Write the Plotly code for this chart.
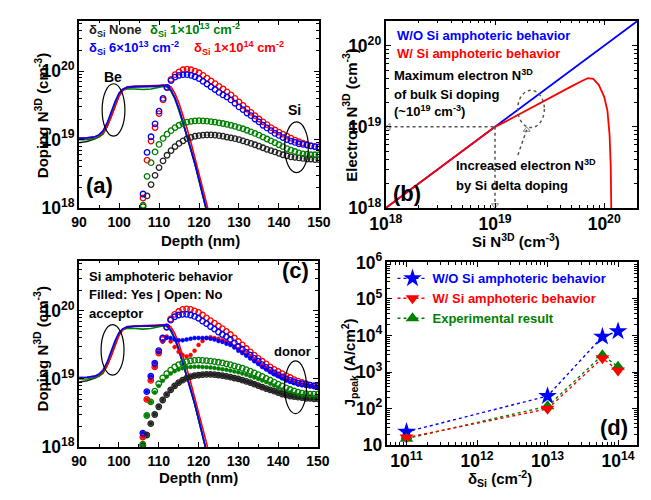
import plotly.graph_objects as go

FONT = "Liberation Sans, Arial, sans-serif"
BLUE = "#0000FF"
RED = "#FF0000"
GREEN = "#008000"
BLACK = "#222222"
W, H = 651, 500

# ---------------- Panels (a)/(c): Be acceptor profiles (lines) ----------------
be_depth = [90, 92, 94, 95, 96, 97, 98, 99, 100, 101, 102, 104, 106, 108, 110, 111,
            112, 113, 114, 115, 116, 117, 118, 119, 120, 121, 122, 123]
be_none = [9.0e18, 9.4e18, 1.03e19, 1.1e19, 1.25e19, 1.55e19, 2.2e19, 3.3e19, 4.6e19, 5.4e19,
           5.7e19, 5.9e19, 5.9e19, 5.9e19, 6.0e19, 6.2e19, 6.0e19, 5.2e19, 4.0e19, 2.75e19,
           1.8e19, 1.15e19, 7.2e18, 4.4e18, 2.6e18, 1.5e18, 8.9e17, 5.0e17]
be_1e13 = [1.0e19, 1.0e19, 1.05e19, 1.1e19, 1.2e19, 1.55e19, 2.2e19, 3.3e19, 4.6e19, 5.3e19,
           5.5e19, 5.5e19, 5.4e19, 5.5e19, 5.8e19, 6.0e19, 5.9e19, 5.1e19, 3.9e19, 2.7e19,
           1.75e19, 1.1e19, 7.0e18, 4.3e18, 2.5e18, 1.45e18, 8.5e17, 5.0e17]
be_6e13 = [1.05e19, 1.06e19, 1.1e19, 1.18e19, 1.35e19, 1.75e19, 2.5e19, 3.6e19, 4.8e19, 5.5e19,
           5.8e19, 6.0e19, 6.0e19, 6.0e19, 6.1e19, 6.2e19, 6.1e19, 5.3e19, 4.0e19, 2.8e19,
           1.8e19, 1.15e19, 7.2e18, 4.4e18, 2.6e18, 1.5e18, 8.8e17, 5.0e17]
be_1e14 = [1.05e19, 1.06e19, 1.1e19, 1.15e19, 1.28e19, 1.55e19, 2.1e19, 3.0e19, 4.3e19, 5.3e19,
           5.9e19, 6.0e19, 6.1e19, 6.1e19, 6.2e19, 6.3e19, 6.3e19, 5.9e19, 4.7e19, 3.4e19,
           2.3e19, 1.45e19, 9.0e18, 5.5e18, 3.3e18, 2.0e18, 1.15e18, 6.5e17]

# ---------------- Si donor profiles (markers), depth 106..150 nm ----------------
si_depth = list(range(106, 151))
si_none = [1.05e18, 1.5e18, 2.2e18, 3.0e18, 3.9e18, 4.9e18, 5.9e18, 6.9e18, 7.9e18, 8.8e18,
           9.6e18, 1.03e19, 1.08e19, 1.12e19, 1.14e19, 1.16e19, 1.17e19, 1.17e19, 1.16e19, 1.14e19,
           1.12e19, 1.09e19, 1.06e19, 1.03e19, 1.0e19, 9.6e18, 9.2e18, 8.8e18, 8.4e18, 8.0e18,
           7.6e18, 7.2e18, 6.9e18, 6.6e18, 6.3e18, 6.0e18, 5.8e18, 5.6e18, 5.5e18, 5.4e18,
           5.3e18, 5.2e18, 5.2e18, 5.1e18, 5.1e18]
si_1e13 = [1.1e18, 2.9e18, 4.6e18, 6.6e18, 8.5e18, 1.04e19, 1.2e19, 1.35e19, 1.5e19, 1.62e19,
           1.72e19, 1.8e19, 1.85e19, 1.88e19, 1.89e19, 1.88e19, 1.86e19, 1.83e19, 1.8e19, 1.76e19,
           1.72e19, 1.67e19, 1.62e19, 1.56e19, 1.5e19, 1.44e19, 1.37e19, 1.3e19, 1.23e19, 1.16e19,
           1.09e19, 1.02e19, 9.6e18, 9.0e18, 8.4e18, 7.9e18, 7.4e18, 7.0e18, 6.7e18, 6.4e18,
           6.2e18, 6.1e18, 6.0e18, 6.0e18, 6.0e18]
si_6e13 = [1.6e18, 6.5e18, 1.1e19, 1.7e19, 2.6e19, 4.0e19, 5.8e19, 7.3e19, 8.2e19, 8.7e19,
           8.9e19, 8.9e19, 8.7e19, 8.3e19, 7.8e19, 7.1e19, 6.5e19, 5.9e19, 5.4e19, 4.9e19,
           4.5e19, 4.2e19, 3.8e19, 3.4e19, 3.0e19, 2.75e19, 2.45e19, 2.24e19, 2.0e19, 1.82e19,
           1.62e19, 1.48e19, 1.35e19, 1.23e19, 1.15e19, 1.07e19, 1.0e19, 9.5e18, 9.1e18, 8.7e18,
           8.5e18, 8.3e18, 8.1e18, 7.9e18, 7.8e18]
si_1e14 = [1.4e18, 5.0e18, 9.5e18, 1.5e19, 2.4e19, 3.8e19, 5.75e19, 7.6e19, 8.9e19, 9.8e19,
           1.05e20, 1.07e20, 1.05e20, 1.0e20, 9.5e19, 8.7e19, 7.9e19, 7.2e19, 6.6e19, 6.0e19,
           5.5e19, 5.0e19, 4.5e19, 4.0e19, 3.55e19, 3.16e19, 2.8e19, 2.5e19, 2.24e19, 2.0e19,
           1.82e19, 1.66e19, 1.5e19, 1.38e19, 1.29e19, 1.2e19, 1.12e19, 1.05e19, 9.8e18, 9.3e18,
           8.9e18, 8.5e18, 8.1e18, 7.9e18, 7.8e18]
# with Si amphoteric behaviour (filled markers, panel c)
si_none_amph = [1.05e18, 1.5e18, 2.2e18, 3.0e18, 3.9e18, 4.9e18, 5.9e18, 6.9e18, 7.9e18, 8.8e18,
                9.6e18, 1.03e19, 1.08e19, 1.12e19, 1.14e19, 1.16e19, 1.17e19, 1.17e19, 1.16e19, 1.14e19,
                1.12e19, 1.09e19, 1.06e19, 1.03e19, 1.0e19, 9.6e18, 9.2e18, 8.8e18, 8.4e18, 8.0e18,
                7.6e18, 7.2e18, 6.9e18, 6.6e18, 6.3e18, 6.0e18, 5.8e18, 5.6e18, 5.5e18, 5.4e18,
                5.3e18, 5.2e18, 5.2e18, 5.1e18, 5.1e18]
si_1e13_amph = [1.1e18, 2.9e18, 4.6e18, 6.3e18, 7.9e18, 9.4e18, 1.08e19, 1.2e19, 1.3e19, 1.38e19,
                1.44e19, 1.48e19, 1.5e19, 1.51e19, 1.51e19, 1.5e19, 1.49e19, 1.47e19, 1.45e19, 1.42e19,
                1.39e19, 1.36e19, 1.33e19, 1.29e19, 1.25e19, 1.2e19, 1.15e19, 1.1e19, 1.05e19, 1.0e19,
                9.5e18, 9.0e18, 8.5e18, 8.0e18, 7.5e18, 7.0e18, 6.6e18, 6.3e18, 6.0e18, 5.8e18,
                5.6e18, 5.5e18, 5.5e18, 5.4e18, 5.4e18]
si_6e13_amph = [1.6e18, 6.5e18, 1.1e19, 1.7e19, 2.6e19, 3.55e19, 4.0e19, 4.0e19, 3.8e19, 3.7e19,
                3.7e19, 3.8e19, 3.9e19, 4.0e19, 4.0e19, 4.0e19, 4.0e19, 3.9e19, 3.8e19, 3.6e19,
                3.5e19, 3.3e19, 3.16e19, 2.9e19, 2.6e19, 2.4e19, 2.2e19, 2.0e19, 1.82e19, 1.66e19,
                1.5e19, 1.38e19, 1.26e19, 1.17e19, 1.1e19, 1.02e19, 9.5e18, 9.1e18, 8.7e18, 8.3e18,
                8.1e18, 7.9e18, 7.8e18, 7.6e18, 7.4e18]
si_1e14_amph = [1.4e18, 5.0e18, 9.5e18, 1.5e19, 2.4e19, 3.55e19, 4.2e19, 3.55e19, 2.95e19, 2.5e19,
                2.24e19, 2.14e19, 2.24e19, 2.6e19, 3.16e19, 3.6e19, 4.0e19, 4.1e19, 4.0e19, 3.9e19,
                3.7e19, 3.55e19, 3.3e19, 3.0e19, 2.75e19, 2.5e19, 2.3e19, 2.1e19, 1.9e19, 1.74e19,
                1.58e19, 1.45e19, 1.32e19, 1.23e19, 1.15e19, 1.07e19, 1.0e19, 9.3e18, 8.9e18, 8.5e18,
                8.3e18, 8.1e18, 7.9e18, 7.8e18, 7.6e18]

# ---------------- Panel (b): electron vs Si concentration ----------------
si_n3d_wo = [1e18, 2e20]
elec_wo = [1e18, 2e20]
si_n3d_w = [1e18, 1e19, 1.26e19, 1.58e19, 2.0e19, 2.51e19, 3.16e19, 3.98e19, 5.01e19, 6.31e19,
            7.08e19, 7.94e19, 8.91e19, 1.0e20, 1.07e20, 1.12e20, 1.148e20, 1.16e20, 1.165e20]
elec_w = [1e18, 1e19, 1.17e19, 1.38e19, 1.62e19, 1.9e19, 2.24e19, 2.7e19, 3.16e19, 3.7e19,
          3.98e19, 3.9e19, 3.3e19, 2.35e19, 1.58e19, 7.9e18, 3.16e18, 1.0e18, 5.0e17]
# guide lines (annotation)
guide_h_x = [1.06e18, 1e19]
guide_h_y = [1e19, 1e19]
guide_v_x = [1e19, 1e19]
guide_v_y = [1e19, 1.08e18]
guide_arrow_x = [1.62e19, 1.95e19]
guide_arrow_y = [4.5e18, 9.2e18]

# ---------------- Panel (d): J_peak vs delta doping ----------------
delta_si = [1e11, 1e13, 6e13, 1e14]
j_wo = [23, 220, 9.3e3, 1.3e4]
j_w = [16, 98, 2.4e3, 1.1e3]
j_exp = [15, 115, 2.9e3, 1.4e3]

fig = go.Figure()


def add(tr, xa, ya):
    tr.update(xaxis=xa, yaxis=ya)
    fig.add_trace(tr)


def line(x, y, c, xa, ya, w=1.6):
    add(go.Scatter(x=x, y=y, mode="lines", line=dict(color=c, width=w), showlegend=False,
                   hoverinfo="skip"), xa, ya)


def circles(x, y, c, xa, ya, filled=False):
    if filled:
        m = dict(symbol="circle", size=4, color=c, line=dict(color=c, width=0.5))
    else:
        m = dict(symbol="circle-open", size=5.5, color=c, line=dict(color=c, width=1.3))
    add(go.Scatter(x=x, y=y, mode="markers", marker=m, showlegend=False, hoverinfo="skip"), xa, ya)


for xa, ya in (("x", "y"), ("x3", "y3")):
    line(be_depth, be_none, BLACK, xa, ya)
    line(be_depth, be_1e13, GREEN, xa, ya)
    line(be_depth, be_1e14, RED, xa, ya)
    line(be_depth, be_6e13, BLUE, xa, ya)

# filled (amphoteric) markers of panel c under the open ones
circles(si_depth, si_none_amph, BLACK, "x3", "y3", True)
circles(si_depth, si_1e13_amph, GREEN, "x3", "y3", True)
circles(si_depth, si_1e14_amph, RED, "x3", "y3", True)
circles(si_depth, si_6e13_amph, BLUE, "x3", "y3", True)

for xa, ya in (("x", "y"), ("x3", "y3")):
    circles(si_depth, si_none, BLACK, xa, ya)
    circles(si_depth, si_1e13, GREEN, xa, ya)
    circles(si_depth, si_1e14, RED, xa, ya)
    circles(si_depth, si_6e13, BLUE, xa, ya)

# panel b
line(si_n3d_wo, elec_wo, BLUE, "x2", "y2", 1.8)
line(si_n3d_w, elec_w, RED, "x2", "y2", 1.8)
GUIDE = "#555555"
add(go.Scatter(x=guide_h_x, y=guide_h_y, mode="lines+markers",
               line=dict(color=GUIDE, width=1.5, dash="dot"),
               marker=dict(symbol=["triangle-left-open", "circle"], size=[6, 0], color=GUIDE),
               showlegend=False, hoverinfo="skip"), "x2", "y2")
add(go.Scatter(x=guide_v_x, y=guide_v_y, mode="lines+markers",
               line=dict(color=GUIDE, width=1.5, dash="dot"),
               marker=dict(symbol=["circle", "triangle-down-open"], size=[0, 6], color=GUIDE),
               showlegend=False, hoverinfo="skip"), "x2", "y2")
add(go.Scatter(x=guide_arrow_x, y=guide_arrow_y, mode="lines+markers",
               line=dict(color=GUIDE, width=1.5, dash="dot"),
               marker=dict(symbol=["circle", "triangle-up-open"], size=[0, 6], color=GUIDE),
               showlegend=False, hoverinfo="skip"), "x2", "y2")

# panel d
add(go.Scatter(x=delta_si, y=j_wo, mode="lines+markers",
               name="<span style='color:#0000FF'>W/O Si amphoteric behavior</span>",
               line=dict(color=BLUE, width=1.4, dash="dot"),
               marker=dict(symbol="star", size=14, color=BLUE), legendrank=1), "x4", "y4")
add(go.Scatter(x=delta_si, y=j_exp, mode="lines+markers",
               name="<span style='color:#008000'>Experimental result</span>",
               line=dict(color=GREEN, width=1.4, dash="dot"),
               marker=dict(symbol="triangle-up", size=12, color=GREEN), legendrank=3), "x4", "y4")
add(go.Scatter(x=delta_si, y=j_w, mode="lines+markers",
               name="<span style='color:#FF0000'>W/ Si amphoteric behavior</span>",
               line=dict(color=RED, width=1.4, dash="dot"),
               marker=dict(symbol="triangle-down", size=12, color=RED), legendrank=2), "x4", "y4")


def px_x(p):
    return p / W


def px_y(p):
    return 1 - p / H


def axis(dom, rng, typ="linear", **kw):
    d = dict(domain=dom, range=rng, type=typ, showline=True, linecolor="black", linewidth=1.5,
             mirror="allticks", ticks="inside", ticklen=5, tickwidth=1.2, tickcolor="black",
             showgrid=False, zeroline=False,
             tickfont=dict(family=FONT, size=14, color="black", weight="bold"))
    if typ == "log":
        d.update(dtick=1, exponentformat="power",
                 minor=dict(ticks="inside", ticklen=3, tickwidth=1, tickcolor="black", showgrid=False))
    d.update(kw)
    return d


yd_top = [px_y(205), px_y(9)]
fig.update_layout(
    width=W, height=H, margin=dict(l=0, r=0, t=0, b=0),
    paper_bgcolor="white", plot_bgcolor="white",
    font=dict(family=FONT, color="black"),
    xaxis=axis([px_x(65), px_x(316)], [90, 150], anchor="y", dtick=10,
               minor=dict(ticks="inside", ticklen=3, dtick=5, tickcolor="black")),
    yaxis=axis(yd_top, [18, 20.74], "log", anchor="x"),
    xaxis2=axis([px_x(386), px_x(649)], [18, 20.301], "log", anchor="y2"),
    yaxis2=axis(yd_top, [18, 20.31], "log", anchor="x2"),
    xaxis3=axis([px_x(65), px_x(315)], [90, 150], anchor="y3", dtick=10,
                minor=dict(ticks="inside", ticklen=3, dtick=5, tickcolor="black")),
    yaxis3=axis([px_y(455), px_y(260)], [18, 20.74], "log", anchor="x3"),
    xaxis4=axis([px_x(387), px_x(649)], [10.72, 14.27], "log", anchor="y4"),
    yaxis4=axis([px_y(453), px_y(262)], [1, 6], "log", anchor="x4"),
    legend=dict(x=px_x(393), y=px_y(263), xanchor="left", yanchor="top",
                bgcolor="rgba(0,0,0,0)", borderwidth=0, itemwidth=30, tracegroupgap=0,
                traceorder="normal",
                font=dict(family=FONT, size=13, weight="bold")),
)

anns = []


def txt(x, y, s, size=13, color="black", xanchor="left", angle=0):
    anns.append(dict(x=px_x(x), y=px_y(y), xref="paper", yref="paper", text="<b>" + s + "</b>",
                     showarrow=False, xanchor=xanchor, yanchor="middle", textangle=angle,
                     font=dict(family=FONT, size=size, color=color)))


# axis titles
txt(192, 239, "Depth (nm)", 15, xanchor="center")
txt(190, 487, "Depth (nm)", 15, xanchor="center")
txt(522, 239, "Si N<sup>3D</sup> (cm<sup>-3</sup>)", 15, xanchor="center")
txt(505, 488, "δ<sub>Si</sub> (cm<sup>-2</sup>)", 15, xanchor="center")
txt(25, 108, "Doping N<sup>3D</sup> (cm<sup>-3</sup>)", 15, xanchor="center", angle=-90)
txt(25, 352, "Doping N<sup>3D</sup> (cm<sup>-3</sup>)", 15, xanchor="center", angle=-90)
txt(348, 107, "Electron N<sup>3D</sup> (cm<sup>-3</sup>)", 15, xanchor="center", angle=-90)
txt(348, 367, "J<sub>peak</sub> (A/cm<sup>2</sup>)", 15, xanchor="center", angle=-90)

# panel a
txt(73, 19, "δ<sub>Si</sub> None", 13, BLACK)
txt(137, 19, "δ<sub>Si</sub> 1×10<sup>13</sup> cm<sup>-2</sup>", 13, GREEN)
txt(73, 38, "δ<sub>Si</sub> 6×10<sup>13</sup> cm<sup>-2</sup>", 13, BLUE)
txt(183, 38, "δ<sub>Si</sub> 1×10<sup>14</sup> cm<sup>-2</sup>", 13, RED)
txt(100, 68, "Be", 14, xanchor="center")
txt(290, 103, "Si", 14, xanchor="center")
txt(86, 182, "(a)", 22, xanchor="center")

# panel b
txt(396, 25, "W/O Si amphoteric behavior", 13, BLUE)
txt(396, 43, "W/ Si amphoteric behavior", 13, RED)
txt(392, 66, "Maximum electron N<sup>3D</sup>", 13)
txt(392, 86, "of bulk Si doping", 13)
txt(392, 104, "(~10<sup>19</sup> cm<sup>-3</sup>)", 13)
txt(457, 160, "Increased electron N<sup>3D</sup>", 13)
txt(457, 181, "by Si delta doping", 13)
txt(408, 190, "(b)", 22, xanchor="center")

# panel c
txt(73, 277, "Si amphoteric behavior", 13)
txt(73, 295, "Filled: Yes | Open: No", 13)
txt(73, 315, "acceptor", 13)
txt(288, 355, "donor", 13, xanchor="center")
txt(291, 270, "(c)", 22, xanchor="center")

# panel d
txt(625, 435, "(d)", 22, xanchor="center")

fig.update_layout(annotations=anns)


def ell(xr, yr, x0, x1, y0, y1, color="black", dash="solid", width=1.2):
    return dict(type="circle", xref=xr + " domain", yref=yr + " domain",
                x0=x0, x1=x1, y0=y0, y1=y1, line=dict(color=color, width=width, dash=dash))


shapes = [
    ell("x", "y", 0.096, 0.191, 0.383, 0.663),
    ell("x", "y", 0.857, 0.956, 0.189, 0.459),
    ell("x3", "y3", 0.092, 0.188, 0.385, 0.656),
    ell("x3", "y3", 0.860, 0.952, 0.179, 0.462),
    ell("x2", "y2", 0.525, 0.631, 0.429, 0.628, GUIDE, "dot", 1.5),
]
fig.update_layout(shapes=shapes)

fig.write_html("out.html")
